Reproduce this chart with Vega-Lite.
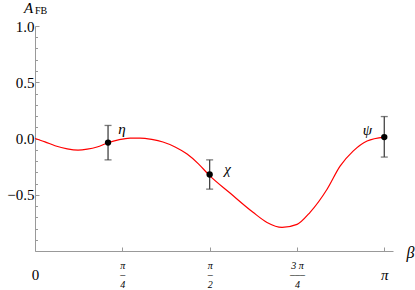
{
  "$schema": "https://vega.github.io/schema/vega-lite/v6.json",
  "width": 358,
  "height": 225,
  "autosize": {"type": "none"},
  "padding": {"left": 35, "top": 26, "right": 22, "bottom": 39},
  "background": "white",
  "config": {"view": {"stroke": null}, "font": "Liberation Serif"},
  "datasets": {
    "curve": [
      {"beta": 0.0, "a": 0.0},
      {"beta": 0.09, "a": -0.03},
      {"beta": 0.18, "a": -0.064},
      {"beta": 0.29, "a": -0.092},
      {"beta": 0.387, "a": -0.103},
      {"beta": 0.47, "a": -0.095},
      {"beta": 0.558, "a": -0.076},
      {"beta": 0.657, "a": -0.038},
      {"beta": 0.75, "a": -0.012},
      {"beta": 0.855, "a": 0.004},
      {"beta": 0.945, "a": 0.004},
      {"beta": 1.05, "a": -0.008},
      {"beta": 1.151, "a": -0.031},
      {"beta": 1.26, "a": -0.075},
      {"beta": 1.368, "a": -0.138},
      {"beta": 1.47, "a": -0.225},
      {"beta": 1.566, "a": -0.326},
      {"beta": 1.754, "a": -0.485},
      {"beta": 1.961, "a": -0.656},
      {"beta": 2.087, "a": -0.746},
      {"beta": 2.222, "a": -0.79},
      {"beta": 2.357, "a": -0.763},
      {"beta": 2.474, "a": -0.656},
      {"beta": 2.627, "a": -0.451},
      {"beta": 2.744, "a": -0.246},
      {"beta": 2.861, "a": -0.112},
      {"beta": 2.987, "a": -0.022},
      {"beta": 3.1416, "a": 0.013}
    ],
    "pts": [
      {"beta": 0.657, "a": -0.036, "lo": -0.19, "hi": 0.116, "name": "η"},
      {"beta": 1.5708, "a": -0.32, "lo": -0.45, "hi": -0.19, "name": "χ"},
      {"beta": 3.1416, "a": 0.013, "lo": -0.165, "hi": 0.195, "name": "ψ"}
    ],
    "ttl": [{"beta": 0, "a": 1}]
  },
  "layer": [
    {
      "data": {"name": "curve"},
      "mark": {"type": "line", "color": "#ff0000", "strokeWidth": 1.2, "interpolate": "monotone"},
      "encoding": {
        "x": {
          "field": "beta", "type": "quantitative", "title": "β",
          "scale": {"domain": [0, 3.22], "nice": false, "zero": false},
          "axis": {
            "values": [0, 0.7854, 1.5708, 2.3562, 3.1416], "tickCount": 50,
            "domainColor": "#999999", "tickColor": "#999999", "tickSize": -4, "grid": false,
            "labelOverlap": false, "labelFlush": false, "labelBound": false,
            "labelExpr": "datum.value < 0.1 ? ['', '0', ''] : datum.value < 1 ? ['π','–','4'] : datum.value < 2 ? ['π','–','2'] : datum.value < 3 ? ['3 π','–––','4'] : ['', 'π', '']",
            "labelFont": "Liberation Serif", "labelColor": "black",
            "labelFontSize": {"condition": {"test": "datum.value < 0.1 || datum.value > 3", "value": 15}, "value": 10},
            "labelFontStyle": {"condition": {"test": "datum.value < 0.1", "value": "normal"}, "value": "italic"},
            "labelLineHeight": 9.5,
            "labelBaseline": "middle",
            "labelPadding": 18,
            "titleFont": "Liberation Serif", "titleFontStyle": "italic", "titleFontWeight": "normal",
            "titleFontSize": 16, "titleColor": "black", "titleAngle": 0, "titleAlign": "center", "titleBaseline": "middle",
            "titleX": 375, "titleY": 1
          }
        },
        "y": {
          "field": "a", "type": "quantitative", "title": null,
          "scale": {"domain": [-1, 1], "nice": false},
          "axis": {
            "values": [-0.9, -0.8, -0.7, -0.6, -0.5, -0.4, -0.3, -0.2, -0.1, 0, 0.1, 0.2, 0.3, 0.4, 0.5, 0.6, 0.7, 0.8, 0.9, 1.0],
            "tickCount": 50,
            "domainColor": "#999999", "tickColor": "#999999", "grid": false,
            "tickSize": {"condition": {"test": "abs(datum.value*2 - round(datum.value*2)) < 0.001", "value": -4}, "value": -2.5},
            "labelExpr": "abs(datum.value*2 - round(datum.value*2)) < 0.001 ? format(datum.value, '.1f') : ''",
            "labelOverlap": false, "labelFlush": false, "labelBound": false,
            "labelFont": "Liberation Serif", "labelFontSize": 15, "labelColor": "black", "labelPadding": 5
          }
        }
      }
    },
    {
      "data": {"name": "pts"},
      "mark": {"type": "errorbar", "ticks": {"size": 7}, "color": "#444444", "thickness": 1.3},
      "encoding": {
        "x": {"field": "beta", "type": "quantitative", "title": "β"},
        "y": {"field": "lo", "type": "quantitative", "title": null},
        "y2": {"field": "hi"}
      }
    },
    {
      "data": {"name": "pts"},
      "mark": {"type": "point", "filled": true, "color": "black", "size": 40, "opacity": 1},
      "encoding": {
        "x": {"field": "beta", "type": "quantitative", "title": "β"},
        "y": {"field": "a", "type": "quantitative", "title": null}
      }
    },
    {
      "data": {"name": "pts"},
      "transform": [{"filter": "datum.name == 'η'"}],
      "mark": {"type": "text", "font": "Liberation Serif", "fontStyle": "italic", "fontSize": 15, "dx": 14, "dy": -14, "align": "center", "baseline": "middle"},
      "encoding": {
        "x": {"field": "beta", "type": "quantitative", "title": "β"},
        "y": {"field": "a", "type": "quantitative", "title": null},
        "text": {"field": "name"}
      }
    },
    {
      "data": {"name": "pts"},
      "transform": [{"filter": "datum.name == 'χ'"}],
      "mark": {"type": "text", "font": "Liberation Serif", "fontStyle": "italic", "fontSize": 15, "dx": 18, "dy": -6, "align": "center", "baseline": "middle"},
      "encoding": {
        "x": {"field": "beta", "type": "quantitative", "title": "β"},
        "y": {"field": "a", "type": "quantitative", "title": null},
        "text": {"field": "name"}
      }
    },
    {
      "data": {"name": "pts"},
      "transform": [{"filter": "datum.name == 'ψ'"}],
      "mark": {"type": "text", "font": "Liberation Serif", "fontStyle": "italic", "fontSize": 15, "dx": -17, "dy": -7, "align": "center", "baseline": "middle"},
      "encoding": {
        "x": {"field": "beta", "type": "quantitative", "title": "β"},
        "y": {"field": "a", "type": "quantitative", "title": null},
        "text": {"field": "name"}
      }
    },
    {
      "data": {"name": "ttl"},
      "mark": {"type": "text", "text": "A", "font": "Liberation Serif", "fontStyle": "italic", "fontSize": 15, "dx": -11, "dy": -13, "align": "left", "baseline": "alphabetic"},
      "encoding": {
        "x": {"field": "beta", "type": "quantitative", "title": "β"},
        "y": {"field": "a", "type": "quantitative", "title": null}
      }
    },
    {
      "data": {"name": "ttl"},
      "mark": {"type": "text", "text": "FB", "font": "Liberation Serif", "fontSize": 10, "dx": 0, "dy": -12, "align": "left", "baseline": "alphabetic"},
      "encoding": {
        "x": {"field": "beta", "type": "quantitative", "title": "β"},
        "y": {"field": "a", "type": "quantitative", "title": null}
      }
    }
  ]
}
